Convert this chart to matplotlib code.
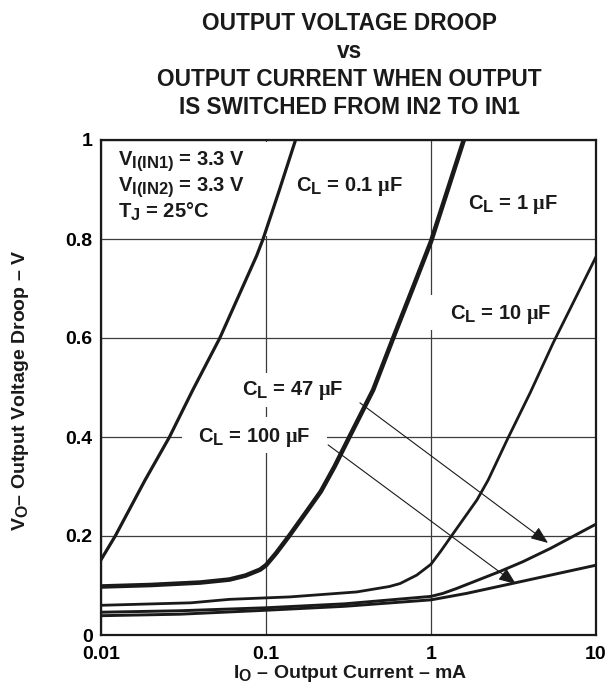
import matplotlib
matplotlib.use("Agg")
import matplotlib.pyplot as plt
import matplotlib._mathtext as _mt
from matplotlib.patches import Rectangle
from matplotlib.ticker import FixedLocator, FixedFormatter

plt.rcParams['font.family'] = ['Liberation Sans', 'DejaVu Sans']
plt.rcParams['font.weight'] = 'bold'
plt.rcParams['mathtext.fontset'] = 'custom'
plt.rcParams['mathtext.rm'] = 'Liberation Sans:bold'
plt.rcParams['mathtext.it'] = 'Liberation Sans:bold'
plt.rcParams['mathtext.bf'] = 'Liberation Sans:bold'
plt.rcParams['mathtext.sf'] = 'Liberation Serif'
# larger subscripts, closer to the data-sheet typography
_mt.SHRINK_FACTOR = 0.82

# Output current (mA) vs output voltage droop (V) for each load capacitance
i_01uF = [0.01, 0.0122, 0.0185, 0.026, 0.036, 0.0525, 0.0877, 0.096, 0.12, 0.151]
v_01uF = [0.152, 0.2, 0.313, 0.4, 0.495, 0.6, 0.766, 0.8, 0.897, 1.0]

i_1uF = [0.01, 0.02, 0.04, 0.06, 0.075, 0.092, 0.1, 0.115, 0.138, 0.175, 0.215,
         0.26, 0.32, 0.446, 0.59, 0.77, 1.0, 1.58]
v_1uF = [0.098, 0.101, 0.106, 0.112, 0.12, 0.132, 0.141, 0.165, 0.2, 0.248, 0.29,
         0.34, 0.4, 0.495, 0.6, 0.698, 0.795, 1.0]

i_10uF = [0.01, 0.035, 0.06, 0.14, 0.355, 0.56, 0.65, 0.82, 1.0, 1.15, 1.33, 1.9,
          2.22, 2.9, 4.0, 5.5, 10]
v_10uF = [0.06, 0.065, 0.072, 0.077, 0.087, 0.098, 0.104, 0.121, 0.143, 0.17, 0.2,
          0.273, 0.313, 0.395, 0.49, 0.59, 0.764]

i_47uF = [0.01, 0.03, 0.1, 0.3, 1.0, 1.18, 1.43, 2.6, 3.6, 5.3, 10]
v_47uF = [0.046, 0.049, 0.055, 0.063, 0.078, 0.084, 0.094, 0.128, 0.148, 0.175, 0.224]

i_100uF = [0.01, 0.03, 0.1, 0.3, 1.0, 1.64, 3.2, 10]
v_100uF = [0.039, 0.042, 0.050, 0.058, 0.071, 0.084, 0.105, 0.141]

x_ticks = [0.01, 0.1, 1, 10]
x_tick_labels = ['0.01', '0.1', '1', '10']
y_ticks = [0, 0.2, 0.4, 0.6, 0.8, 1.0]
y_tick_labels = ['0', '0.2', '0.4', '0.6', '0.8', '1']

W, H = 606, 696
fig = plt.figure(figsize=(W / 100, H / 100), dpi=100)
L, R, T, B = 101, 596, 140, 635
ax = fig.add_axes([L / W, (H - B) / H, (R - L) / W, (B - T) / H])
ax.set_xscale('log')
ax.set_xlim(0.01, 10)
ax.set_ylim(0, 1)

ax.xaxis.set_major_locator(FixedLocator(x_ticks))
ax.xaxis.set_major_formatter(FixedFormatter(x_tick_labels))
ax.xaxis.set_minor_locator(FixedLocator([]))
ax.yaxis.set_major_locator(FixedLocator(y_ticks))
ax.yaxis.set_major_formatter(FixedFormatter(y_tick_labels))

ax.set_axisbelow(True)
ax.grid(True, which='major', color='#3c3c3c', lw=0.9)
ax.tick_params(axis='both', length=0, labelsize=14)
ax.tick_params(axis='x', pad=8)
ax.tick_params(axis='y', pad=6)
for lab in ax.get_xticklabels() + ax.get_yticklabels():
    lab.set_fontweight('bold')
for sp in ax.spines.values():
    sp.set_linewidth(1.6)
    sp.set_color('#1a1a1a')


def px_box(x0, y0, x1, y1):
    """White patch given in pixel corners, converted to axes fraction."""
    fx0 = (x0 - L) / (R - L)
    fx1 = (x1 - L) / (R - L)
    fy0 = (B - y1) / (B - T)
    fy1 = (B - y0) / (B - T)
    ax.add_patch(Rectangle((fx0, fy0), fx1 - fx0, fy1 - fy0, transform=ax.transAxes,
                           facecolor='white', edgecolor='none', zorder=1))


px_box(103, 142, 272, 236)
px_box(425, 295, 565, 330)
px_box(232, 373, 355, 407)
px_box(182, 417, 327, 453)

curve_color = '#1a1a1a'
ax.plot(i_01uF, v_01uF, color=curve_color, lw=2.3, zorder=3, solid_joinstyle='round')
ax.plot(i_1uF, v_1uF, color=curve_color, lw=3.3, zorder=3, solid_joinstyle='round')
ax.plot(i_10uF, v_10uF, color=curve_color, lw=2.0, zorder=3, solid_joinstyle='round')
ax.plot(i_47uF, v_47uF, color=curve_color, lw=2.1, zorder=3, solid_joinstyle='round')
ax.plot(i_100uF, v_100uF, color=curve_color, lw=2.1, zorder=3, solid_joinstyle='round')


def px_text(x, y, s, size=14.5):
    ax.text((x - L) / (R - L), (B - y) / (B - T), s, transform=ax.transAxes,
            ha='left', va='baseline', fontsize=size, fontweight='bold',
            color='#1a1a1a', zorder=4)


px_text(118, 165.5, r'$V_{I(IN1)}$ = 3.3 V')
px_text(118, 192, r'$V_{I(IN2)}$ = 3.3 V')
px_text(118, 218, r'$T_J$ = 25°C')
px_text(296, 191, r'$C_L$ = 0.1 $\mathsf{\mu}$F')
px_text(468, 209.5, r'$C_L$ = 1 $\mathsf{\mu}$F')
px_text(450, 319.5, r'$C_L$ = 10 $\mathsf{\mu}$F')
px_text(242, 395.5, r'$C_L$ = 47 $\mathsf{\mu}$F')
px_text(198, 442, r'$C_L$ = 100 $\mathsf{\mu}$F')

arrow_style = dict(arrowstyle='-|>,head_length=0.75,head_width=0.3', lw=0.8,
                   color='#1a1a1a', mutation_scale=14, shrinkA=0, shrinkB=0)
ax.annotate('', xy=(5.12, 0.186), xytext=(0.371, 0.469), arrowprops=arrow_style,
            zorder=4)
ax.annotate('', xy=(3.27, 0.103), xytext=(0.238, 0.384), arrowprops=arrow_style,
            zorder=4)

title_lines = ['OUTPUT VOLTAGE DROOP', 'vs', 'OUTPUT CURRENT WHEN OUTPUT',
               'IS SWITCHED FROM IN2 TO IN1']
for k, line in enumerate(title_lines):
    fig.text(349 / W, 1 - (29.5 + 28.2 * k) / H, line, ha='center', va='baseline',
             fontsize=16.3, fontweight='bold', color='#1a1a1a')

fig.text(21 / W, 1 - 390 / H, r'$V_O$– Output Voltage Droop – V', rotation=90,
         ha='center', va='center', fontsize=14, fontweight='bold', color='#1a1a1a')
fig.text(350 / W, 1 - 678 / H, r'$I_O$ – Output Current – mA', ha='center',
         va='baseline', fontsize=14, fontweight='bold', color='#1a1a1a')

fig.savefig('out.png', dpi=100, facecolor='white')
